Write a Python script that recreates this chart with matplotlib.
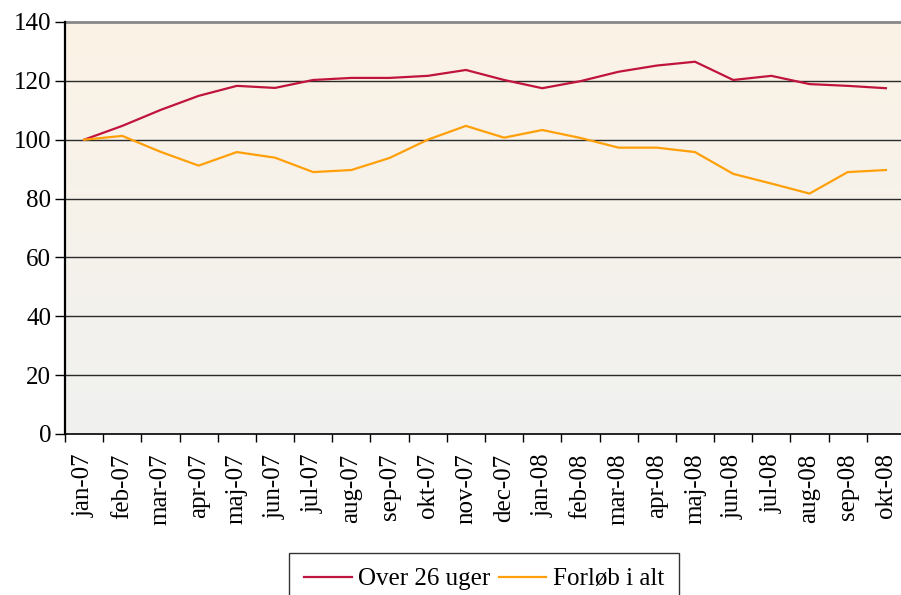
import numpy as np
import matplotlib
matplotlib.use("Agg")
import matplotlib.pyplot as plt
from matplotlib.colors import LinearSegmentedColormap

plt.rcParams['font.family'] = ['Liberation Serif', 'DejaVu Serif']

months = ['jan-07', 'feb-07', 'mar-07', 'apr-07', 'maj-07', 'jun-07', 'jul-07',
          'aug-07', 'sep-07', 'okt-07', 'nov-07', 'dec-07', 'jan-08', 'feb-08',
          'mar-08', 'apr-08', 'maj-08', 'jun-08', 'jul-08', 'aug-08', 'sep-08', 'okt-08']
over_26 = [100, 104.7, 110.1, 114.9, 118.3, 117.6, 120.3, 121.0, 121.0, 121.7, 123.7,
           120.3, 117.5, 119.9, 123.1, 125.2, 126.5, 120.3, 121.7, 118.9, 118.3, 117.5]
forloeb = [100, 101.3, 95.9, 91.2, 95.8, 93.9, 89.0, 89.7, 93.8, 100.0, 104.7,
           100.7, 103.3, 100.6, 97.3, 97.3, 95.8, 88.4, 85.1, 81.7, 89.0, 89.7]
yticks = [0, 20, 40, 60, 80, 100, 120, 140]

fig = plt.figure(figsize=(9.01, 5.95), dpi=100)
ax = fig.add_axes([65 / 901, 1 - 434 / 595, 840 / 901, 412 / 595])

n = len(months)
x = np.arange(n)
ax.set_xlim(-0.5, n - 0.5)
ax.set_ylim(0, 140)

# background gradient, peach at the top to light grey at the bottom
cmap = LinearSegmentedColormap.from_list('bg', ['#f0f1f0', '#fcf3e6'])
ax.imshow(np.linspace(0, 1, 256).reshape(-1, 1), aspect='auto', cmap=cmap,
          origin='lower', extent=(-0.5, n - 0.5, 0, 140), zorder=0)

for v in yticks[1:-1]:
    ax.axhline(v, color='#2a2a2a', lw=1.0, zorder=1)
ax.axhline(140, color='#888888', lw=2.0, zorder=1, clip_on=False)

ax.plot(x, over_26, color='#c0143c', lw=1.6, label='Over 26 uger', zorder=3)
ax.plot(x, forloeb, color='#ffa00a', lw=1.6, label='Forløb i alt', zorder=3)

ax.set_yticks(yticks)
ax.tick_params(axis='y', labelsize=18, length=7, width=1, direction='out', pad=3)
ax.set_xticks(x)
ax.set_xticklabels(months, rotation=90)
ax.tick_params(axis='x', which='major', length=0, labelsize=18, pad=14)
ax.set_xticks(np.arange(n + 1) - 0.5, minor=True)
ax.tick_params(axis='x', which='minor', length=6, width=1, direction='out')

for s in ['top', 'right']:
    ax.spines[s].set_visible(False)
ax.spines['left'].set_linewidth(1.6)
ax.spines['bottom'].set_linewidth(1.2)

leg = fig.legend(loc='upper center', bbox_to_anchor=(484 / 901, 1 - 553 / 595),
                 ncol=2, fontsize=18, frameon=True, fancybox=False,
                 edgecolor='black', handlelength=1.9, columnspacing=0.35,
                 handletextpad=0.25, borderpad=0.6, borderaxespad=0)
leg.get_frame().set_linewidth(1.0)

fig.savefig('out.png', dpi=100)
